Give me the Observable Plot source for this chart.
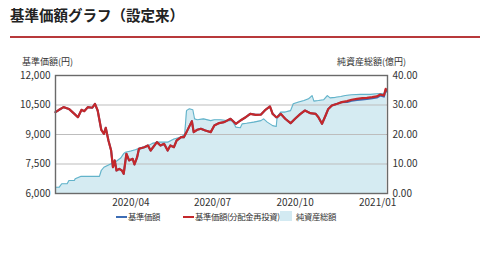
<!DOCTYPE html>
<html><head><meta charset="utf-8">
<script src="https://cdn.jsdelivr.net/npm/d3@7"></script>
<script src="https://cdn.jsdelivr.net/npm/@observablehq/plot@0.6"></script>
<style>
body{margin:0;width:480px;height:254px;background:#fff;position:relative;overflow:hidden;font-family:"Noto Sans CJK JP","Noto Sans",sans-serif;color:#333}
.abs{position:absolute;white-space:nowrap}
#title{left:10px;top:5px;font-size:14.5px;font-weight:bold;color:#222;line-height:20px}
#rule{left:10px;top:36px;width:470px;height:2px;background:#b8393b}
.lab{font-size:9px;line-height:11px;color:#333}
#chart{position:absolute;left:0;top:40px}
.leg{font-size:8.4px;letter-spacing:-0.4px;line-height:11px;color:#333;top:211px}
.sw{position:absolute;top:216px;height:2px;width:11px}
</style></head>
<body>
<div id="title" class="abs">基準価額グラフ（設定来）</div>
<div id="rule" class="abs"></div>
<div class="abs lab" style="left:22px;top:56px">基準価額(円)</div>
<div class="abs lab" style="left:337px;top:56px">純資産総額(億円)</div>
<div id="chart"></div>
<div class="sw" style="left:116px;background:#3d6db5"></div>
<div class="abs leg" style="left:128px">基準価額</div>
<div class="sw" style="left:183px;background:#c4282b"></div>
<div class="abs leg" style="left:195px">基準価額(分配金再投資)</div>
<div class="abs" style="left:280px;top:211px;width:12px;height:10px;background:#d3eaf2"></div>
<div class="abs leg" style="left:296px">純資産総額</div>
<script>
const navDates = ["2020-01-08","2020-01-12","2020-01-17","2020-01-23","2020-01-29","2020-02-02","2020-02-06","2020-02-09","2020-02-13","2020-02-18","2020-02-21","2020-02-24","2020-02-28","2020-03-02","2020-03-04","2020-03-07","2020-03-10","2020-03-12","2020-03-14","2020-03-16","2020-03-19","2020-03-22","2020-03-24","2020-03-27","2020-03-30","2020-04-03","2020-04-05","2020-04-08","2020-04-10","2020-04-16","2020-04-20","2020-04-23","2020-04-30","2020-05-04","2020-05-08","2020-05-12","2020-05-15","2020-05-19","2020-05-22","2020-05-27","2020-05-30","2020-06-02","2020-06-08","2020-06-10","2020-06-14","2020-06-18","2020-06-23","2020-06-29","2020-07-03","2020-07-08","2020-07-14","2020-07-21","2020-07-27","2020-08-01","2020-08-07","2020-08-12","2020-08-18","2020-08-24","2020-08-29","2020-09-03","2020-09-06","2020-09-08","2020-09-10","2020-09-11","2020-09-15","2020-09-20","2020-09-26","2020-10-01","2020-10-07","2020-10-12","2020-10-18","2020-10-24","2020-10-27","2020-10-31","2020-11-04","2020-11-07","2020-11-11","2020-11-17","2020-11-22","2020-11-28","2020-12-03","2020-12-09","2020-12-15","2020-12-20","2020-12-26","2020-12-31","2021-01-04","2021-01-08","2021-01-10","2021-01-11"];
const reinvValues = [10134,10255,10390,10300,10050,9880,10255,10185,10390,10360,10560,10220,9240,9035,9340,8695,8185,7340,7680,7170,7255,7170,7000,8020,7680,7765,7475,7850,8275,8355,8440,8185,8610,8440,8525,8185,8440,8355,8695,8865,8865,9120,9680,9120,9240,9290,9205,9120,9460,9575,9630,9800,9545,9710,9880,10050,10000,10015,10255,10425,10050,9965,9880,9880,10050,9800,9575,9800,10050,10220,10085,10050,9880,9545,9965,10300,10475,10560,10645,10695,10765,10815,10845,10865,10900,10935,11035,10985,11320,11240];
const baseValues = [10134,10255,10390,10300,10050,9880,10255,10185,10390,10360,10560,10220,9240,9035,9340,8695,8185,7340,7680,7170,7255,7170,7000,8020,7680,7765,7475,7850,8275,8355,8440,8185,8610,8440,8525,8185,8440,8355,8695,8865,8865,9120,9680,9120,9240,9290,9205,9120,9460,9575,9630,9800,9545,9710,9880,10050,10000,10015,10255,10425,10050,9965,9880,9880,10050,9800,9575,9800,10050,10220,10085,10050,9880,9545,9965,10300,10475,10560,10645,10650,10710,10755,10785,10800,10840,10875,10975,10925,11270,11200];
const assetDates = ["2020-01-08","2020-01-12","2020-01-15","2020-01-21","2020-01-23","2020-01-29","2020-01-30","2020-02-05","2020-02-26","2020-02-28","2020-03-02","2020-03-06","2020-03-10","2020-03-13","2020-03-17","2020-03-21","2020-03-24","2020-03-26","2020-04-01","2020-04-06","2020-04-12","2020-04-19","2020-04-25","2020-04-30","2020-05-08","2020-05-12","2020-05-19","2020-05-27","2020-05-31","2020-06-02","2020-06-05","2020-06-09","2020-06-11","2020-06-14","2020-06-21","2020-06-29","2020-07-03","2020-07-10","2020-07-17","2020-07-23","2020-07-27","2020-08-01","2020-08-03","2020-08-08","2020-08-16","2020-08-24","2020-08-27","2020-08-31","2020-09-06","2020-09-10","2020-09-11","2020-09-15","2020-09-20","2020-09-26","2020-09-29","2020-10-05","2020-10-11","2020-10-16","2020-10-20","2020-10-22","2020-10-27","2020-11-02","2020-11-06","2020-11-09","2020-11-15","2020-11-21","2020-11-26","2020-12-03","2020-12-13","2020-12-24","2020-12-31","2021-01-08","2021-01-11"];
const assetValues = [2.1,2.1,3.3,3.3,4.4,4.4,5.0,5.8,5.8,7.8,8.9,9.5,10.1,10.3,11.2,12.1,13.5,14.0,14.4,14.8,15.5,15.9,17.0,17.4,17.4,17.4,18.5,19.1,20.2,28.1,28.7,28.4,25.3,25.0,25.3,24.7,25.0,25.0,24.7,24.7,22.5,22.3,23.6,23.8,24.2,24.7,25.3,24.2,23.0,22.7,25.9,27.6,27.6,28.1,30.4,31.0,31.5,32.1,33.2,31.3,31.5,31.8,33.2,32.4,32.6,32.9,33.2,33.5,33.6,33.6,33.8,34.0,34.4];
const yTicks = [6000,7500,9000,10500,12000];
const xTicks = ["2020-04-01","2020-07-01","2020-10-01","2021-01-01"];
const xDomain = ["2020-01-08","2021-01-12"];

const nav = navDates.map((d,i)=>({date:new Date(d), base:baseValues[i], reinv:reinvValues[i]}));
const assets = assetDates.map((d,i)=>({date:new Date(d), v:assetValues[i]}));
const toLeft = v => 6000 + v*150; // 0..40 億円 shares the 6,000..12,000 axis
const font = '"Noto Sans CJK JP","Noto Sans",sans-serif';

const chart = Plot.plot({
  width:480, height:190,
  marginTop:35, marginBottom:37, marginLeft:55, marginRight:93,
  style:{fontFamily:font, fontSize:"10px", color:"#333", background:"transparent"},
  x:{type:"utc", domain:xDomain.map(d=>new Date(d))},
  y:{domain:[6000,12000]},
  marks:[
    Plot.areaY(assets,{x:"date", y1:6000, y2:d=>toLeft(d.v), fill:"#d5ebf2"}),
    Plot.ruleY(yTicks.slice(1,-1),{stroke:"#bdbdbd", strokeWidth:1}),
    Plot.lineY(assets,{x:"date", y:d=>toLeft(d.v), stroke:"#62b3ca", strokeWidth:1.1}),
    Plot.lineY(nav,{x:"date", y:"base", stroke:"#3d6db5", strokeWidth:2}),
    Plot.lineY(nav,{x:"date", y:"reinv", stroke:"#c4282b", strokeWidth:2.2}),
    Plot.frame({stroke:"#6a6a6a", strokeWidth:1.4}),
    Plot.axisY({ticks:yTicks, tickSize:0, tickPadding:5, tickFormat:d3.format(","), label:null}),
    Plot.axisY({anchor:"right", ticks:yTicks, tickSize:0, tickPadding:5, tickFormat:v=>((v-6000)/150).toFixed(2), label:null}),
    Plot.axisX({ticks:xTicks.map(d=>new Date(d)), tickSize:0, tickPadding:5, tickFormat:d3.utcFormat("%Y/%m"), label:null})
  ]
});
document.getElementById("chart").appendChild(chart);
</script>
</body></html>
